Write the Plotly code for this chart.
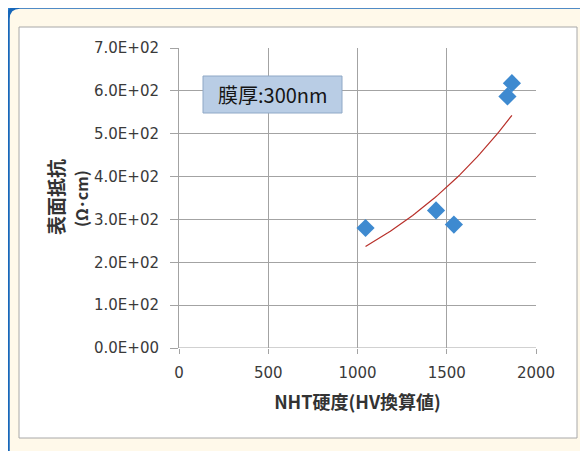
import numpy as np
import plotly.graph_objects as go

# Data
hardness = [1045, 1440, 1540, 1840, 1865]      # NHT硬度 (HV換算値)
resistivity = [280, 321, 288, 587, 618]        # 表面抵抗 (Ω・cm)

x_ticks = [0, 500, 1000, 1500, 2000]
y_ticks = [0, 100, 200, 300, 400, 500, 600, 700]
y_tick_text = ["0.0E+00", "1.0E+02", "2.0E+02", "3.0E+02",
               "4.0E+02", "5.0E+02", "6.0E+02", "7.0E+02"]

note_text = "膜厚:300nm"
x_title = "NHT硬度(HV換算値)"
y_title_main = "表面抵抗"
y_title_unit = "(Ω･cm)"

# Exponential trend line (least squares on log y), as a spreadsheet would do
b, ln_a = np.polyfit(hardness, np.log(resistivity), 1)
trend_x = np.linspace(min(hardness), max(hardness), 60)
trend_y = np.exp(ln_a) * np.exp(b * trend_x)

OFF = 7                      # page offset of the figure inside the window
W, H = 588 - OFF, 451 - OFF
L, T = 178 - OFF, 47 - OFF
PW, PH = 357, 300
R, B = W - L - PW, H - T - PH


def px(xp):
    return (xp - OFF - L) / PW


def py(yp):
    return (T + PH - (yp - OFF)) / PH


fig = go.Figure()
fig.add_trace(go.Scatter(x=trend_x, y=trend_y, mode="lines",
                         line=dict(color="#B8302A", width=1.2),
                         hoverinfo="skip", showlegend=False))
fig.add_trace(go.Scatter(x=hardness, y=resistivity, mode="markers",
                         marker=dict(symbol="diamond", size=14, color="#3E8AD0",
                                     line=dict(width=0)),
                         showlegend=False))

# Outer blue rounded frame
x0, y0, x1, y1 = px(7), py(6), px(600), py(470)
rx = 12 / PW
ry = 12 / PH
path = (f"M {x0},{y1} L {x0},{y0 - ry} Q {x0},{y0} {x0 + rx},{y0} "
        f"L {x1},{y0} L {x1},{y1} Z")
shapes = [
    dict(type="path", path=path, xref="paper", yref="paper",
         line=dict(color="#2C7FD0", width=7), fillcolor="#FFF9EA", layer="below"),
    dict(type="path", path=path, xref="paper", yref="paper",
         line=dict(color="#1767BA", width=3.5), fillcolor="#FFF9EA", layer="below"),
    dict(type="rect", xref="paper", yref="paper",
         x0=px(18), x1=px(576), y0=py(26), y1=py(437),
         line=dict(color="#A8A8A8", width=1), fillcolor="#FFFFFF", layer="below"),
    dict(type="rect", xref="paper", yref="paper",
         x0=px(202), x1=px(341), y0=py(75), y1=py(112),
         line=dict(color="#8FA8C6", width=1), fillcolor="#B9CDE5", layer="above"),
]

annotations = [
    dict(text=note_text, xref="paper", yref="paper",
         x=(px(202) + px(341)) / 2, y=(py(75) + py(112)) / 2,
         showarrow=False, xanchor="center", yanchor="middle",
         font=dict(family="Noto Sans CJK JP", size=20, color="#151515")),
    dict(text=f"<b>{y_title_main}</b>", xref="paper", yref="paper",
         x=px(54), y=py(196), textangle=-90,
         showarrow=False, xanchor="center", yanchor="middle",
         font=dict(family="Noto Sans CJK JP", size=19, color="#333333")),
    dict(text=f"<b>{y_title_unit}</b>", xref="paper", yref="paper",
         x=px(80), y=py(197), textangle=-90,
         showarrow=False, xanchor="center", yanchor="middle",
         font=dict(family="Noto Sans CJK JP", size=16, color="#333333")),
]

fig.update_layout(
    width=W, height=H,
    margin=dict(l=L, r=R, t=T, b=B, pad=0),
    paper_bgcolor="#E9EEF3",
    plot_bgcolor="#FFFFFF",
    shapes=shapes,
    annotations=annotations,
    font=dict(family="DejaVu Sans, Noto Sans CJK JP", color="#333333"),
)

fig.update_xaxes(
    range=[0, 2000], tickvals=x_ticks, ticktext=[str(v) for v in x_ticks],
    showgrid=True, gridcolor="#A3A3A3", gridwidth=1,
    showline=False, zeroline=False,
    ticks="outside", ticklen=5, tickcolor="#A3A3A3",
    tickfont=dict(family="DejaVu Sans", size=15, color="#3A3A3A"),
    ticklabelstandoff=6,
    title=dict(text=f"<b>{x_title}</b>", standoff=15,
               font=dict(family="Noto Sans CJK JP", size=18, color="#333333")),
)
fig.update_yaxes(
    range=[0, 700], tickvals=y_ticks, ticktext=y_tick_text,
    showgrid=True, gridcolor="#A3A3A3", gridwidth=1,
    showline=True, linecolor="#A3A3A3", linewidth=1,
    zeroline=False,
    ticks="outside", ticklen=8, tickcolor="#A3A3A3",
    tickfont=dict(family="DejaVu Sans", size=15, color="#3A3A3A"),
    ticklabelstandoff=8,
)
# x-axis baseline (y = 0)
fig.add_hline(y=0, line=dict(color="#A3A3A3", width=1))

fig.write_html("out.html")
